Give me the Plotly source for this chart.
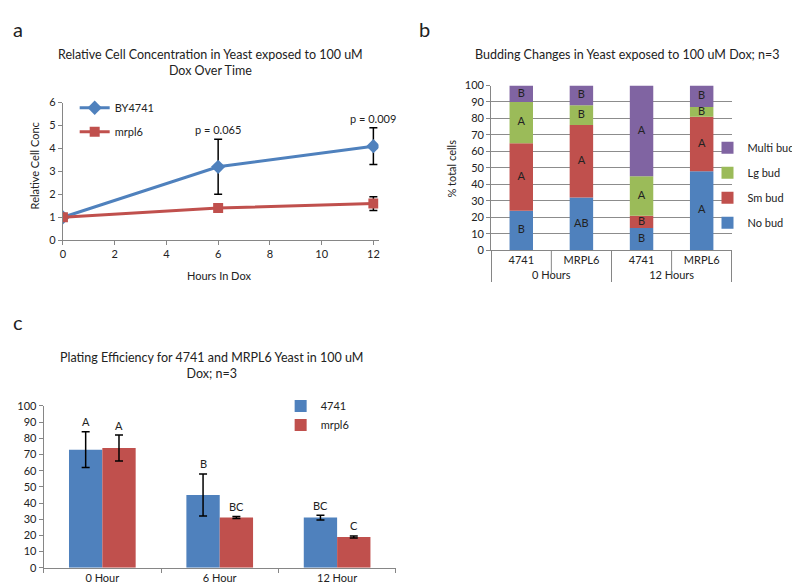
import plotly.graph_objects as go

# ---------------- Panel a data ----------------
hours = [0, 6, 12]
by4741 = [1.0, 3.2, 4.1]
by4741_err = [0.0, 1.2, 0.8]
mrpl6 = [1.0, 1.4, 1.6]
mrpl6_err = [0.0, 0.05, 0.3]
p_labels = ["", "p = 0.065", "p = 0.009"]

# ---------------- Panel b data ----------------
bud_groups = ["0 Hours", "0 Hours", "12 Hours", "12 Hours"]
bud_strains = ["4741", "MRPL6", "4741", "MRPL6"]
no_bud = [24, 32, 13.5, 48]
sm_bud = [41, 44, 7.5, 33]
lg_bud = [25, 12, 24, 6]
multi_bud = [10, 12, 55, 13]
no_bud_letters = ["B", "AB", "B", "A"]
sm_bud_letters = ["A", "A", "B", "A"]
lg_bud_letters = ["A", "B", "A", "B"]
multi_bud_letters = ["B", "B", "A", "B"]

# ---------------- Panel c data ----------------
plate_cats = ["0 Hour", "6 Hour", "12 Hour"]
plate_4741 = [73, 45, 31]
plate_4741_err = [11, 13, 1.5]
plate_mrpl6 = [74, 31, 19]
plate_mrpl6_err = [8, 0.6, 0.6]
plate_4741_letters = ["A", "B", "BC"]
plate_mrpl6_letters = ["A", "BC", "C"]

BLUE = "#4F81BD"
RED = "#C0504D"
GREEN = "#9BBB59"
PURPLE = "#8064A2"
AXC = "#868686"
FONT = "Lato"
W, H = 800, 586
# the whole page (figure + 8px body margin) ends up scaled into the 800x586 picture
SX, SY = W / (W + 16), H / (H + 16)


def fx(p):  # picture pixel -> paper fraction
    return ((p - 8 * SX) / SX) / W


def fy(p):
    return 1 - ((p - 8 * SY) / SY) / H


def lx(q):  # figure pixel -> paper fraction
    return q / W


def ly(q):
    return 1 - q / H


fig = go.Figure()

# ---- Panel a traces ----
fig.add_trace(go.Scatter(
    x=hours, y=by4741, name="BY4741", mode="lines+markers",
    line=dict(color=BLUE, width=3), marker=dict(symbol="diamond", size=11, color=BLUE),
    error_y=dict(type="data", array=by4741_err, color="black", thickness=1.5, width=4),
    xaxis="x", yaxis="y", legend="legend", legendgroup="a1"))
fig.add_trace(go.Scatter(
    x=hours, y=mrpl6, name="mrpl6", mode="lines+markers",
    line=dict(color=RED, width=3), marker=dict(symbol="square", size=10, color=RED),
    error_y=dict(type="data", array=mrpl6_err, color="black", thickness=1.5, width=4),
    xaxis="x", yaxis="y", legend="legend", legendgroup="a2"))

# ---- Panel b traces (stacked via explicit base) ----
xb = [bud_groups, bud_strains]
series_b = [("No bud", no_bud, BLUE, no_bud_letters),
            ("Sm bud", sm_bud, RED, sm_bud_letters),
            ("Lg bud", lg_bud, GREEN, lg_bud_letters),
            ("Multi bud", multi_bud, PURPLE, multi_bud_letters)]
base = [0.0] * len(bud_strains)
for k, (name, vals, col, letters) in enumerate(series_b):
    fig.add_trace(go.Bar(
        x=xb, y=vals, base=list(base), name=name, marker=dict(color=col, line=dict(width=0)),
        width=0.39, xaxis="x2", yaxis="y2", legend="legend2", legendgroup=name,
        legendrank=1000 - k))
    mids = [b + v / 2 for b, v in zip(base, vals)]
    fig.add_trace(go.Scatter(
        x=xb, y=mids, text=letters, mode="text", showlegend=False,
        textfont=dict(family=FONT, size=11, color="#222"), hoverinfo="skip",
        xaxis="x2", yaxis="y2"))
    base = [b + v for b, v in zip(base, vals)]

# ---- Panel c traces ----
bw = 0.284
fig.add_trace(go.Bar(
    x=plate_cats, y=plate_4741, name="4741", marker=dict(color=BLUE, line=dict(width=0)),
    width=bw, offset=-bw,
    error_y=dict(type="data", array=plate_4741_err, color="black", thickness=1.5, width=4),
    xaxis="x3", yaxis="y3", legend="legend3", legendgroup="c1"))
fig.add_trace(go.Bar(
    x=plate_cats, y=plate_mrpl6, name="mrpl6", marker=dict(color=RED, line=dict(width=0)),
    width=bw, offset=0,
    error_y=dict(type="data", array=plate_mrpl6_err, color="black", thickness=1.5, width=4),
    xaxis="x3", yaxis="y3", legend="legend3", legendgroup="c2"))

lfont = dict(family=FONT, size=11, color="#222")
annotations = []
for i, (v, e, t) in enumerate(zip(plate_4741, plate_4741_err, plate_4741_letters)):
    annotations.append(dict(x=i - bw / 2, y=v + e, xref="x3", yref="y3", text=t, showarrow=False,
                            xanchor="center", yanchor="middle", yshift=10, font=lfont))
for i, (v, e, t) in enumerate(zip(plate_mrpl6, plate_mrpl6_err, plate_mrpl6_letters)):
    annotations.append(dict(x=i + bw / 2, y=v + e, xref="x3", yref="y3", text=t, showarrow=False,
                            xanchor="center", yanchor="middle", yshift=10, font=lfont))
for h, v, e, t in zip(hours, by4741, by4741_err, p_labels):
    if t:
        annotations.append(dict(x=h, y=v + e, xref="x", yref="y", text=t, showarrow=False,
                                xanchor="center", yanchor="bottom", yshift=1, font=lfont))

tfont = dict(family=FONT, size=12.5, color="#222")


def pann(px, py, text, font, angle=0):
    return dict(x=fx(px), y=fy(py), xref="paper", yref="paper", text=text, showarrow=False,
                xanchor="center", yanchor="middle", textangle=angle, font=font)


big = dict(family=FONT, size=20, color="#222")
annotations += [
    dict(x=lx(7), y=ly(0), xref="paper", yref="paper", text="a", showarrow=False,
         xanchor="center", yanchor="top", font=big),
    dict(x=fx(415), y=ly(0), xref="paper", yref="paper", text="b", showarrow=False,
         xanchor="center", yanchor="top", font=big),
    dict(x=lx(7), y=fy(313), xref="paper", yref="paper", text="c", showarrow=False,
         xanchor="center", yanchor="middle", font=big),
    pann(204, 55, "Relative Cell Concentration in Yeast exposed to 100 uM<br>Dox Over Time", tfont),
    pann(615, 47, "Budding Changes in Yeast exposed to 100 uM Dox; n=3", tfont),
    pann(205, 357, "Plating Efficiency for 4741 and MRPL6 Yeast in 100 uM<br>Dox; n=3", tfont),
    pann(213, 267, "Hours In Dox", lfont),
    pann(31, 158, "Relative Cell Conc", lfont, -90),
    pann(442, 161, "% total cells", lfont, -90),
]

tick = dict(family=FONT, size=11, color="#222")
axcommon = dict(showline=True, linecolor=AXC, linewidth=1, ticks="outside", tickcolor=AXC,
                ticklen=4, tickfont=tick, zeroline=False, showgrid=False)

# separators between the strain cells of the multi-category axis (panel b)
shapes = [dict(type="line", xref="x2", yref="paper", x0=xp, x1=xp, y0=fy(242), y1=fy(267),
               line=dict(color=AXC, width=1)) for xp in (0.5, 2.5)]

fig.update_layout(
    width=W, height=H, margin=dict(l=0, r=0, t=0, b=0),
    paper_bgcolor="white", plot_bgcolor="rgba(0,0,0,0)",
    barmode="overlay", font=dict(family=FONT, color="#222"),
    xaxis=dict(domain=[fx(59), fx(370)], range=[0, 12.2], tickvals=[0, 2, 4, 6, 8, 10, 12],
               anchor="y", **axcommon),
    yaxis=dict(domain=[fy(232), fy(95)], range=[0, 6], tickvals=[0, 1, 2, 3, 4, 5, 6],
               anchor="x", **axcommon),
    xaxis2=dict(domain=[fx(481), fx(718)], anchor="y2", type="multicategory",
                showline=True, linecolor=AXC, ticks="", tickfont=tick,
                showdividers=True, dividercolor=AXC, dividerwidth=1, showgrid=False,
                range=[-0.5, 3.5]),
    yaxis2=dict(domain=[fy(242), fy(78)], range=[0, 100], tickvals=list(range(0, 101, 10)),
                anchor="x2", showline=True, linecolor=AXC, ticks="outside", tickcolor=AXC,
                ticklen=4, tickfont=tick, showgrid=True, gridcolor="#8c8c8c", gridwidth=1,
                zeroline=False),
    xaxis3=dict(domain=[fx(40), fx(387)], anchor="y3", type="category", tickson="boundaries",
                range=[-0.5, 2.5], **axcommon),
    yaxis3=dict(domain=[fy(558), fy(397)], range=[0, 100], tickvals=list(range(0, 101, 10)),
                anchor="x3", **axcommon),
    legend=dict(x=lx(64), y=ly(80), xanchor="left", yanchor="top", bgcolor="rgba(0,0,0,0)",
                font=dict(family=FONT, size=11, color="#222"), traceorder="grouped",
                tracegroupgap=5),
    legend2=dict(x=lx(700), y=ly(121), xanchor="left", yanchor="top", bgcolor="rgba(0,0,0,0)",
                 font=dict(family=FONT, size=11, color="#222"), traceorder="grouped",
                 tracegroupgap=6),
    legend3=dict(x=lx(271), y=ly(385), xanchor="left", yanchor="top", bgcolor="rgba(0,0,0,0)",
                 font=dict(family=FONT, size=11, color="#222"), traceorder="grouped",
                 tracegroupgap=0),
    annotations=annotations,
    shapes=shapes,
    showlegend=True,
)

fig.write_html("out.html")
